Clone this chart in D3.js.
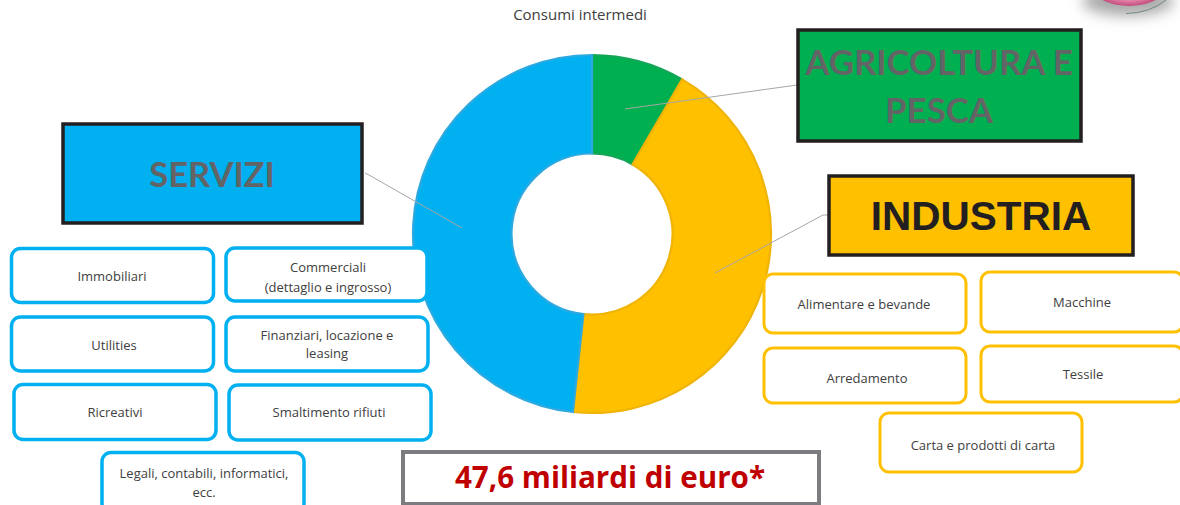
<!DOCTYPE html>
<html>
<head>
<meta charset="utf-8">
<style>
  html, body { margin: 0; padding: 0; background: #fff; overflow: hidden; }
  svg { display: block; font-family: "Open Sans", sans-serif; }
</style>
<script src="https://cdn.jsdelivr.net/npm/d3@7"></script>
</head>
<body>
<div id="viz"></div>
<script>
const width = 1180;
const height = 505;

const chartTitle = 'Consumi intermedi';
const totalLabel = '47,6 miliardi di euro*';

// Shares of the doughnut
const sectors = ['AGRICOLTURA E PESCA', 'INDUSTRIA', 'SERVIZI'];
const shares = [8.4, 43.3, 48.3];
const sectorColors = ['#00b050', '#ffc000', '#00b0f0'];
const sectorEdges = ['#16a558', '#f0b408', '#2ea9e0'];

const serviziItems = [
  ['Immobiliari'],
  ['Commerciali', '(dettaglio e ingrosso)'],
  ['Utilities'],
  ['Finanziari, locazione e', 'leasing'],
  ['Ricreativi'],
  ['Smaltimento rifiuti'],
  ['Legali, contabili, informatici,', 'ecc.'],
];
const industriaItems = [
  ['Alimentare e bevande'],
  ['Macchine'],
  ['Arredamento'],
  ['Tessile'],
  ['Carta e prodotti di carta'],
];

// Box layout, same order as the item lists: x, y, w, h, text x, first baseline, line height
const serviziBoxes = [
  [11.5, 248.5, 202, 54, 112, 281, 0], [226, 248, 201, 53, 328, 272, 20],
  [11.5, 317, 202, 54, 114, 350, 0], [226, 317, 202, 54, 327, 340, 18],
  [14, 384.5, 202, 55, 115, 417, 0], [229, 385, 202, 55, 329, 417, 0],
  [102, 452.5, 202, 60, 204, 478, 19],
];
const industriaBoxes = [
  [764, 274, 202, 59, 864, 309, 0], [981, 272, 202, 60, 1082, 307, 0],
  [764, 348, 202, 55, 867, 383, 0], [981, 346, 202, 56, 1083, 379, 0],
  [880, 413, 202, 59, 983, 450, 0],
];

const svg = d3.select('#viz')
  .append('svg')
    .attr('width', width)
    .attr('height', height)
    .attr('viewBox', [0, 0, width, height]);

// Corner ornament cut off by the top edge
const defs = svg.append('defs');
defs.append('filter').attr('id', 'soft').attr('x', '-40%').attr('y', '-80%').attr('width', '180%').attr('height', '260%')
  .append('feGaussianBlur').attr('stdDeviation', 7);
const pink = defs.append('radialGradient').attr('id', 'pink');
pink.append('stop').attr('offset', '55%').attr('stop-color', '#ea8fb0');
pink.append('stop').attr('offset', '100%').attr('stop-color', '#c24a7c');
svg.append('ellipse')
  .attr('cx', 1128).attr('cy', 1).attr('rx', 46).attr('ry', 15)
  .attr('fill', '#a8a8a8').attr('filter', 'url(#soft)');
svg.append('ellipse')
  .attr('cx', 1129).attr('cy', -9).attr('rx', 33).attr('ry', 15)
  .attr('fill', 'url(#pink)');
svg.append('path')
  .attr('d', 'M1126,13.5 Q1150,13 1166,0')
  .attr('fill', 'none')
  .attr('stroke', '#6f8a80')
  .attr('stroke-width', 1);

// Title
svg.append('text')
  .attr('x', 580).attr('y', 20)
  .attr('text-anchor', 'middle')
  .attr('font-size', 15)
  .attr('fill', '#404040')
  .text(chartTitle);

// Doughnut
const pie = d3.pie().sort(null).value(d => d);
const arc = d3.arc().innerRadius(80.5).outerRadius(179);

svg.append('g')
    .attr('class', 'doughnut')
    .attr('transform', 'translate(592, 234)')
  .selectAll('path')
  .data(pie(shares))
  .join('path')
    .attr('d', arc)
    .attr('fill', (d, i) => sectorColors[i])
    .attr('stroke', (d, i) => sectorEdges[i])
    .attr('stroke-width', 2.2);

// Leader lines
const leaders = [
  [[625, 109], [797, 85]],
  [[715, 273], [823, 215], [828, 215]],
  [[462, 228], [369, 175], [365, 173]],
];
svg.append('g')
  .selectAll('path')
  .data(leaders)
  .join('path')
    .attr('d', d3.line())
    .attr('fill', 'none')
    .attr('stroke', '#a6a6a6')
    .attr('stroke-width', 1);

// Sector headers
const headers = [
  { x: 63, y: 124, w: 299, h: 99, color: 2, lines: ['SERVIZI'], tx: 212, ys: [187], size: 34.5, fill: '#636466', font: 'Lato' },
  { x: 798, y: 30, w: 283, h: 111, color: 0, lines: ['AGRICOLTURA E', 'PESCA'], tx: 939, ys: [75, 123], size: 34.8, fill: '#636466', font: 'Lato' },
  { x: 829, y: 176, w: 304, h: 79, color: 1, lines: ['INDUSTRIA'], tx: 981, ys: [230], size: 40.5, fill: '#231f20', font: '"Liberation Sans"' },
];
const headerGroups = svg.append('g')
  .selectAll('g')
  .data(headers)
  .join('g');
headerGroups.append('rect')
  .attr('x', d => d.x).attr('y', d => d.y)
  .attr('width', d => d.w).attr('height', d => d.h)
  .attr('fill', d => sectorColors[d.color])
  .attr('stroke', '#231f20')
  .attr('stroke-width', 3.5);
headerGroups.each(function (d) {
  d3.select(this).selectAll('text')
    .data(d.lines)
    .join('text')
      .attr('x', d.tx)
      .attr('y', (l, i) => d.ys[i])
      .attr('text-anchor', 'middle')
      .attr('font-family', d.font)
      .attr('font-size', d.size)
      .attr('font-weight', 700)
      .attr('fill', d.fill)
      .text(l => l);
});

// Rounded item boxes
const drawItems = (items, boxes, color, strokeWidth) => {
  const g = svg.append('g')
    .selectAll('g')
    .data(items)
    .join('g');
  g.append('rect')
    .attr('x', (d, i) => boxes[i][0])
    .attr('y', (d, i) => boxes[i][1])
    .attr('width', (d, i) => boxes[i][2])
    .attr('height', (d, i) => boxes[i][3])
    .attr('rx', 9)
    .attr('fill', '#fff')
    .attr('stroke', color)
    .attr('stroke-width', strokeWidth);
  g.each(function (lines, i) {
    const [, , , , tx, ty, lineHeight] = boxes[i];
    d3.select(this).selectAll('text')
      .data(lines)
      .join('text')
        .attr('x', tx)
        .attr('y', (l, j) => ty + j * lineHeight)
        .attr('text-anchor', 'middle')
        .attr('font-size', 13)
        .attr('fill', '#404040')
        .text(l => l);
  });
};
drawItems(serviziItems, serviziBoxes, sectorColors[2], 3.5);
drawItems(industriaItems, industriaBoxes, sectorColors[1], 3);

// Total
svg.append('rect')
  .attr('x', 403).attr('y', 452)
  .attr('width', 416).attr('height', 52)
  .attr('fill', '#fff')
  .attr('stroke', '#7c7c80')
  .attr('stroke-width', 4);
svg.append('text')
  .attr('x', 610).attr('y', 488)
  .attr('text-anchor', 'middle')
  .attr('font-size', 29.6)
  .attr('font-weight', 700)
  .attr('fill', '#c00000')
  .text(totalLabel);
</script>
</body>
</html>
